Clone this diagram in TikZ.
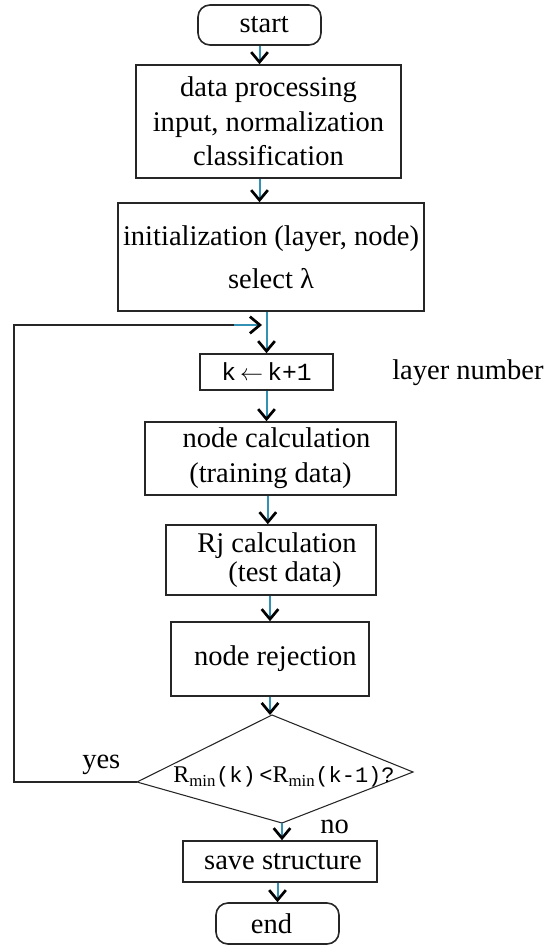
\documentclass[tikz,border=0pt]{standalone}
\usepackage{fontspec}
\setmainfont{Liberation Serif}
\newfontfamily\monof{Liberation Mono}
\usetikzlibrary{arrows.meta,calc}
\definecolor{arrowc}{RGB}{50,145,180}
\newcommand\mainsz{\fontsize{21.4}{26}\selectfont}
\tikzset{
  box/.style={draw=black!85, line width=1.2pt, inner sep=0pt, align=center, font=\mainsz},
  term/.style={box, rounded corners=9pt},
  dline/.style={draw=black!85, line width=0.8pt},
  loopline/.style={draw=black!85, line width=1.2pt},
  arr/.style={draw=arrowc, line width=1.5pt, -{Straight Barb[length=7.5pt,width=12.5pt,line width=2pt,color=black]}},
  lbl/.style={font=\mainsz, inner sep=0pt}
}
\begin{document}
\begin{tikzpicture}[x=0.75pt,y=-0.75pt]
\useasboundingbox (0,0) rectangle (548,945);
% nodes
\node[term, minimum width=92.25pt, minimum height=30pt] (start) at (259.5,25) {\hspace*{7pt}start};
\node[box, minimum width=198.75pt, minimum height=84.75pt] (box2) at (268.5,121.5)
  {data processing\\input, normalization\\classification};
\node[box, minimum width=229.5pt, minimum height=81pt] (box3) at (271,257)
  {initialization (layer, node)\\[6pt]select λ};
\node[box, minimum width=99.75pt, minimum height=27pt] (kbox) at (266.5,372)
  {\fontsize{18.5}{20}\selectfont\monof k\,$\leftarrow$\,k+1};
\node[lbl, anchor=base west] (layer) at (392,379) {layer number};
\node[box, minimum width=188.25pt, minimum height=54.75pt] (ncalc) at (270.5,458.5)
  {\hspace*{9pt}node calculation\\(training data)};
\node[box, minimum width=157.5pt, minimum height=52.5pt] (rj) at (271,560)
  {\hspace*{9pt}Rj calculation\\[-4pt]\hspace*{21pt}(test data)};
\node[box, minimum width=148.5pt, minimum height=55.5pt] (nrej) at (270,659)
  {\hspace*{8pt}node rejection};
% diamond
\coordinate (dtop) at (272,715);
\coordinate (dright) at (413,772);
\coordinate (dbot) at (282,823);
\coordinate (dleft) at (137,782);
\draw[dline] (dtop) -- (dright) -- (dbot) -- (dleft) -- cycle;
\node[inner sep=0pt] (dtext) at (284,777)
  {\fontsize{18}{20}\selectfont R\textsubscript{min}{\monof\fontsize{16.5}{18}\selectfont(k)\,<}R\textsubscript{min}{\monof\fontsize{16.5}{18}\selectfont(k-1)?}};
\node[lbl, anchor=base west] (yes) at (82,768) {yes};
\node[lbl, anchor=base west] (no) at (320,833) {no};
\node[box, minimum width=145.5pt, minimum height=30.75pt] (save) at (280,861.5)
  {\hspace*{4.5pt}save structure};
\node[term, minimum width=92.25pt, minimum height=30.75pt] (end) at (277.5,923.5) {end\hspace*{9pt}};
% connectors
\draw[arr] (start.south) -- (start.south |- box2.north);
\draw[arr] (box2.south -| start.south) -- (box3.north -| start.south);
\draw[arr] (box3.south -| kbox.north) -- (kbox.north);
\draw[arr] (kbox.south) -- (kbox.south |- ncalc.north);
\draw[arr] ([xshift=1pt]kbox.south |- ncalc.south) -- ([xshift=1pt]kbox.south |- rj.north);
\draw[arr] (rj.south -| nrej.north) -- (nrej.north);
\draw[arr] (nrej.south) -- (nrej.south |- dtop);
\draw[arr] (dbot) -- (dbot |- save.north);
\draw[arr] (save.south -| end.north) -- (end.north);
% loop
\coordinate (lcorner) at (14,325);
\coordinate (lmid) at (234,325);
\coordinate (ltip) at (262,325);
\draw[loopline] (dleft) -- (dleft -| lcorner) -- (lcorner) -- (lmid);
\draw[arr] (lmid) -- (ltip);
\end{tikzpicture}
\end{document}
